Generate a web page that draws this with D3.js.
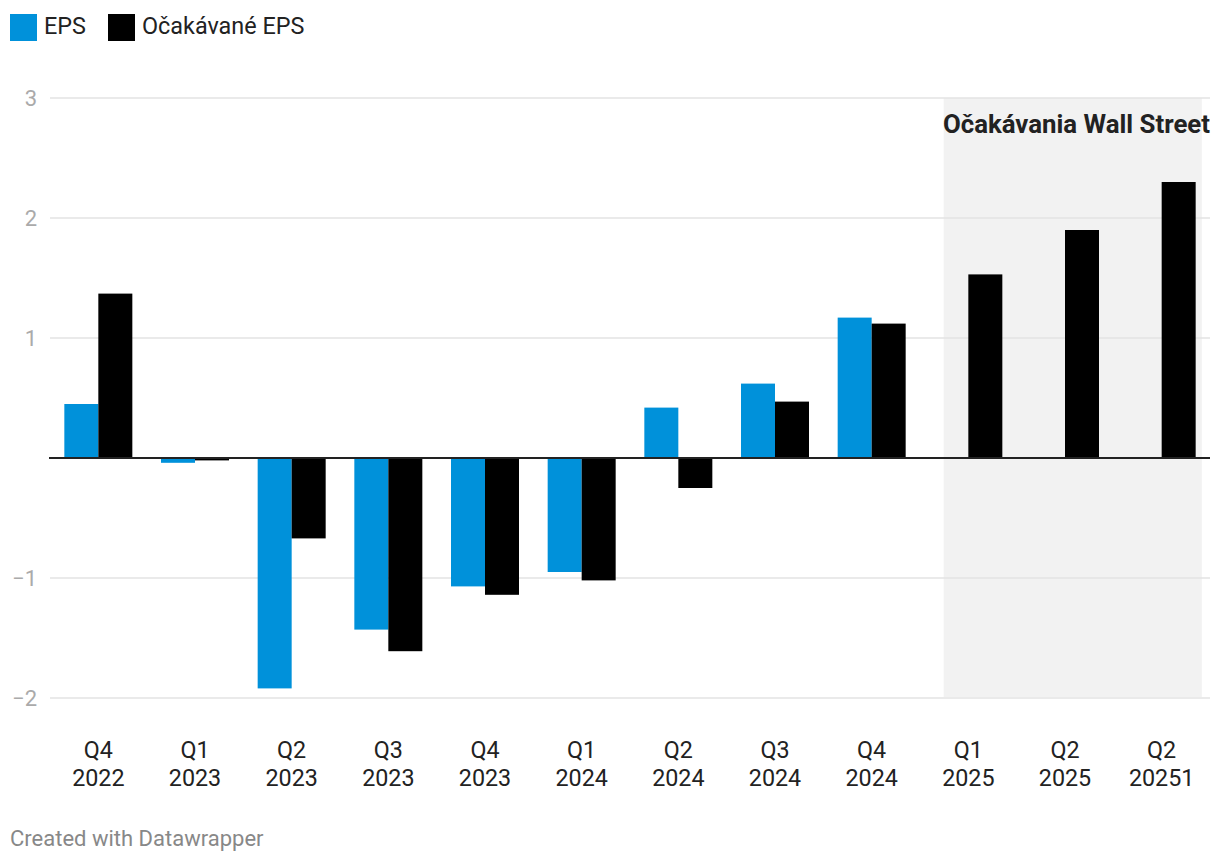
<!DOCTYPE html>
<html>
<head>
<meta charset="utf-8">
<script src="https://cdn.jsdelivr.net/npm/d3@7"></script>
<style>
  body { margin: 0; background: #fff; }
  svg { display: block; font-family: Roboto, "Noto Sans", sans-serif; }
</style>
</head>
<body>
<svg id="chart" width="1220" height="864"></svg>
<script>
const categories = ["Q4 2022","Q1 2023","Q2 2023","Q3 2023","Q4 2023","Q1 2024","Q2 2024","Q3 2024","Q4 2024","Q1 2025","Q2 2025","Q2 20251"];
const epsValues = [0.45, -0.04, -1.92, -1.43, -1.07, -0.95, 0.42, 0.62, 1.17, null, null, null];
const expectedValues = [1.37, -0.02, -0.67, -1.61, -1.14, -1.02, -0.25, 0.47, 1.12, 1.53, 1.90, 2.30];
const seriesNames = ["EPS", "Očakávané EPS"];
const seriesColors = ["#0091da", "#000000"];
const yTicks = [3, 2, 1, -1, -2];
const highlightFrom = "Q1 2025";
const highlightLabel = "Očakávania Wall Street";
const footerText = "Created with Datawrapper";

const svg = d3.select("#chart");
const plotLeft = 50, plotRight = 1210, plotTop = 98, plotBottom = 698;

const x = d3.scaleBand().domain(categories).range([plotLeft, plotRight]).paddingInner(0).paddingOuter(0);
const y = d3.scaleLinear().domain([-2, 3]).range([plotBottom, plotTop]);
const step = x.step();
const barW = 34;
const inner = d3.scaleBand().domain(seriesNames).range([0, barW * 2]);

// highlight background
const hx0 = x(highlightFrom) + step / 2 - 0.255 * step;
const hx1 = x(categories[categories.length - 1]) + step / 2 + 0.415 * step;
svg.append("rect")
  .attr("x", hx0).attr("y", y(3)).attr("width", hx1 - hx0).attr("height", y(-2) - y(3) - 1)
  .attr("fill", "#f2f2f2");

// grid
svg.append("g").selectAll("line").data(yTicks).join("line")
  .attr("x1", plotLeft).attr("x2", plotRight)
  .attr("y1", d => y(d)).attr("y2", d => y(d))
  .attr("stroke", "#e3e3e3").attr("stroke-width", 1.5);

// y tick labels
svg.append("g").selectAll("text").data(yTicks).join("text")
  .attr("x", 37).attr("y", d => y(d)).attr("dy", "0.36em")
  .attr("text-anchor", "end")
  .attr("fill", "#aaaaaa").attr("font-size", 22)
  .text(d => d < 0 ? "\u2212" + Math.abs(d) : d);

// annotation
svg.append("text")
  .attr("x", 1210).attr("y", 133).attr("text-anchor", "end")
  .attr("font-weight", 700).attr("font-size", 25.8).attr("fill", "#222")
  .text(highlightLabel);

// bars
const rows = categories.map((c, i) => ({ c, vals: [epsValues[i], expectedValues[i]] }));
const groups = svg.append("g").selectAll("g").data(rows).join("g")
  .attr("transform", d => `translate(${x(d.c) + step / 2 - barW},0)`);
groups.selectAll("rect")
  .data(d => d.vals.map((v, k) => ({ v, k })).filter(e => e.v !== null))
  .join("rect")
  .attr("x", e => inner(seriesNames[e.k]))
  .attr("width", barW)
  .attr("y", e => y(Math.max(0, e.v)))
  .attr("height", e => Math.abs(y(e.v) - y(0)))
  .attr("fill", e => seriesColors[e.k]);

// zero baseline
svg.append("line")
  .attr("x1", plotLeft - 1).attr("x2", plotRight)
  .attr("y1", y(0)).attr("y2", y(0))
  .attr("stroke", "#222").attr("stroke-width", 2);

// x labels
const xl = svg.append("g").selectAll("text").data(categories).join("text")
  .attr("x", d => x(d) + step / 2)
  .attr("text-anchor", "middle")
  .attr("fill", "#222").attr("font-size", 23.3);
xl.append("tspan").attr("x", d => x(d) + step / 2).attr("y", 758).text(d => d.split(" ")[0]);
xl.append("tspan").attr("x", d => x(d) + step / 2).attr("y", 786).text(d => d.split(" ")[1]);

// legend
const legend = svg.append("g");
const legX = [10, 108];
seriesNames.forEach((n, i) => {
  legend.append("rect").attr("x", legX[i]).attr("y", 14).attr("width", 27).attr("height", 27).attr("fill", seriesColors[i]);
  legend.append("text").attr("x", legX[i] + 34).attr("y", 34)
    .attr("font-size", 23.4).attr("fill", "#222").text(n);
});

// footer
svg.append("text").attr("x", 10).attr("y", 846)
  .attr("font-size", 22).attr("fill", "#888").text(footerText);
</script>
</body>
</html>
